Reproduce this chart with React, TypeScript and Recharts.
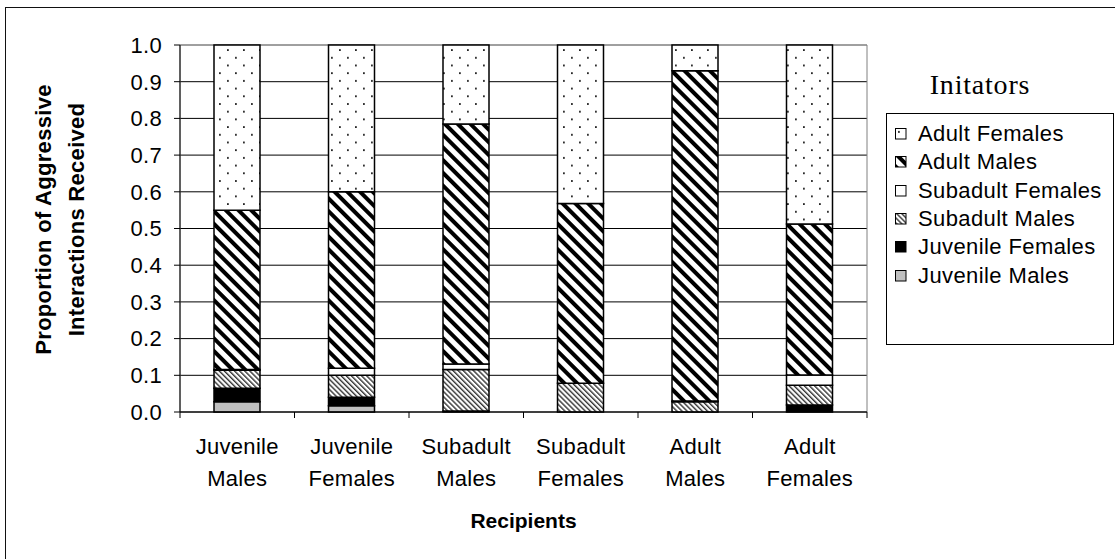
import { BarChart, Bar, XAxis, YAxis, CartesianGrid, Legend, ReferenceArea } from "recharts"

const categories = [
  "Juvenile Males",
  "Juvenile Females",
  "Subadult Males",
  "Subadult Females",
  "Adult Males",
  "Adult Females",
]

// proportions of aggressive interactions received, by initiator class
const juvenileMales = [0.028, 0.017, 0, 0, 0, 0]
const juvenileFemales = [0.037, 0.023, 0.003, 0, 0, 0.019]
const subadultMales = [0.049, 0.06, 0.113, 0.078, 0.028, 0.054]
const subadultFemales = [0.002, 0.019, 0.015, 0, 0.002, 0.028]
const adultMales = [0.434, 0.481, 0.654, 0.49, 0.9, 0.411]
const adultFemales = [0.45, 0.4, 0.215, 0.432, 0.07, 0.488]

const yTicks = [0, 0.1, 0.2, 0.3, 0.4, 0.5, 0.6, 0.7, 0.8, 0.9, 1.0]

const series = [
  { key: "jm", name: "Juvenile Males", values: juvenileMales, fill: "#c0c0c0" },
  { key: "jf", name: "Juvenile Females", values: juvenileFemales, fill: "#000000" },
  { key: "sm", name: "Subadult Males", values: subadultMales, fill: "url(#pSM)" },
  { key: "sf", name: "Subadult Females", values: subadultFemales, fill: "#ffffff" },
  { key: "am", name: "Adult Males", values: adultMales, fill: "url(#pAM)" },
  { key: "af", name: "Adult Females", values: adultFemales, fill: "url(#pAF)" },
]

const data = categories.map((name, i) => {
  const row: Record<string, string | number> = { name }
  series.forEach((s) => (row[s.key] = s.values[i]))
  return row
})

const SANS = "'Liberation Sans', Arial, sans-serif"
const SERIF = "'Liberation Serif', 'Times New Roman', serif"

const XTick = (props: any) => {
  const { x, y, payload, index, visibleTicksCount } = props
  const half = payload.offset || 57
  const lines = String(payload.value).split(" ")
  const last = index === visibleTicksCount - 1
  return (
    <g>
      <line x1={x - half} x2={x - half} y1={y - 6} y2={y} stroke="#000" />
      {last && <line x1={x + half} x2={x + half} y1={y - 6} y2={y} stroke="#000" />}
      {lines.map((l, i) => (
        <text key={i} x={x} y={y + 36 + i * 32} textAnchor="middle" fontSize={22} fontFamily={SANS} fill="#000" letterSpacing={0.3}>
          {l}
        </text>
      ))}
    </g>
  )
}

const YTitle = (props: any) => {
  const vb = props.viewBox || { y: 45, height: 367 }
  const cy = vb.y + vb.height / 2 - 9
  return (
    <g fontFamily={SANS} fontWeight="bold" fontSize={22} fill="#000" letterSpacing={0.3}>
      <text x={51} y={cy} transform={`rotate(-90, 51, ${cy})`} textAnchor="middle">
        Proportion of Aggressive
      </text>
      <text x={84} y={cy} transform={`rotate(-90, 84, ${cy})`} textAnchor="middle">
        Interactions Received
      </text>
    </g>
  )
}

const gridLine = (props: any) => {
  const { x1, x2, y1, y2, index } = props
  const top = y1 <= 46
  return <line key={`g-${index}`} x1={x1} x2={x2} y1={y1} y2={y2} stroke={top ? "#808080" : "#000"} strokeWidth={1} />
}

const renderLegend = (props: any) => {
  const order = [...series].reverse().map((s) => s.name)
  const items = [...(props.payload || [])].sort((a, b) => order.indexOf(a.value) - order.indexOf(b.value))
  return (
    <div style={{ fontFamily: SANS, color: "#000" }}>
      <div style={{ fontFamily: SERIF, fontSize: 28, letterSpacing: 0.8, textAlign: "center", height: 53, lineHeight: "50px", paddingRight: 40 }}>
        Initators
      </div>
      <div style={{ border: "1px solid #000", height: 232, boxSizing: "border-box", paddingTop: 6 }}>
        {items.map((it: any) => (
          <div key={it.value} style={{ display: "flex", alignItems: "center", height: 28.3, paddingLeft: 8 }}>
            <svg width={12} height={12} style={{ marginRight: 11, flexShrink: 0 }}>
              <rect x={0.5} y={0.5} width={10.5} height={10.5} fill={it.color} stroke="#000" />
            </svg>
            <span style={{ fontSize: 22, letterSpacing: 0.4, whiteSpace: "nowrap" }}>{it.value}</span>
          </div>
        ))}
      </div>
    </div>
  )
}

export default function App() {
  return (
    <div style={{ position: "absolute", left: 0, top: 0, width: 1115, height: 559, background: "#fff", overflow: "hidden" }}>
      {/* outer chart frame */}
      <div style={{ position: "absolute", left: 5, top: 7, width: 1200, height: 700, border: "1.5px solid #111" }} />
      <div style={{ position: "absolute", left: 0, top: 0 }}>
        <BarChart width={1115} height={559} data={data} margin={{ top: 45, right: 248, bottom: 17, left: 0 }} barSize={46}>
          <defs>
            <pattern id="pAF" width="16" height="15.4" patternUnits="userSpaceOnUse">
              <rect width="16" height="15.4" fill="#fff" />
              <rect x="3" y="3" width="1.8" height="1.8" fill="#222" />
              <rect x="11" y="10.7" width="1.8" height="1.8" fill="#222" />
            </pattern>
            <pattern id="pAM" width="9" height="9" patternUnits="userSpaceOnUse" patternTransform="rotate(-45)">
              <rect width="9" height="9" fill="#fff" />
              <rect width="4" height="9" fill="#000" />
            </pattern>
            <pattern id="pSM" width="3.6" height="3.6" patternUnits="userSpaceOnUse" patternTransform="rotate(-45)">
              <rect width="3.6" height="3.6" fill="#fff" />
              <rect width="1.4" height="3.6" fill="#333" />
            </pattern>
          </defs>
          <ReferenceArea y1={0} y2={1} fill="none" stroke="#808080" strokeWidth={1} ifOverflow="visible" />
          <CartesianGrid vertical={false} horizontal={gridLine} />
          <XAxis
            dataKey="name"
            height={130}
            tick={<XTick />}
            tickLine={false}
            tickSize={6}
            tickMargin={0}
            axisLine={{ stroke: "#000" }}
            interval={0}
            label={{ value: "Recipients", position: "insideBottom", offset: 14, fontSize: 21, fontWeight: "bold", fontFamily: SANS, fill: "#000" }}
          />
          <YAxis
            width={180}
            domain={[0, 1]}
            ticks={yTicks}
            interval={0}
            tickFormatter={(v: number) => v.toFixed(1)}
            tickSize={6}
            tickMargin={12}
            tick={{ fontSize: 22, fontFamily: SANS, fill: "#000", letterSpacing: 0.3 }}
            axisLine={{ stroke: "#000" }}
            tickLine={{ stroke: "#000" }}
            label={<YTitle />}
          />
          <Legend
            layout="vertical"
            align="center"
            verticalAlign="middle"
            content={renderLegend}
            wrapperStyle={{ left: 886, top: 60, width: 228, height: 290 }}
          />
          {series.map((s) => (
            <Bar
              key={s.key}
              dataKey={s.key}
              name={s.name}
              stackId="a"
              fill={s.fill}
              stroke="#000"
              strokeWidth={1.5}
              isAnimationActive={false}
            />
          ))}
        </BarChart>
      </div>
    </div>
  )
}
